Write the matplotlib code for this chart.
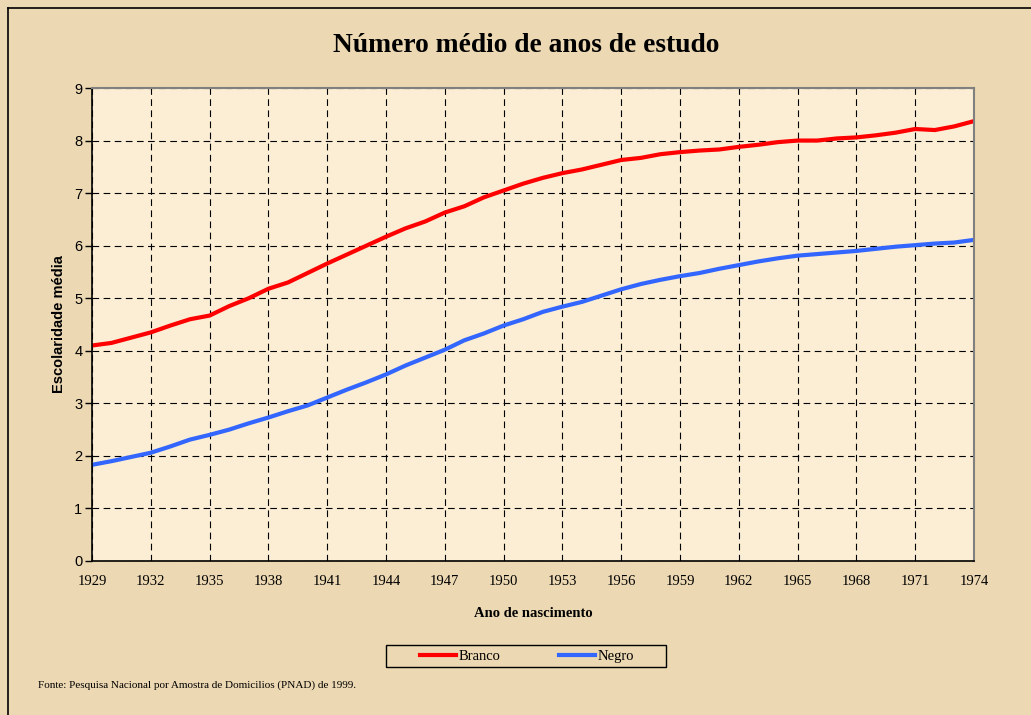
import numpy as np
import matplotlib
matplotlib.use("Agg")
import matplotlib.pyplot as plt
from matplotlib.lines import Line2D
from matplotlib.patches import Rectangle

# Dados (escolaridade média por ano de nascimento)
anos = list(range(1929, 1975))
branco = [4.10, 4.15, 4.25, 4.35, 4.48, 4.60, 4.67, 4.85, 5.00, 5.18,
          5.30, 5.48, 5.66, 5.83, 6.00, 6.17, 6.33, 6.46, 6.63, 6.75,
          6.92, 7.05, 7.18, 7.29, 7.38, 7.45, 7.54, 7.63, 7.67, 7.74,
          7.78, 7.81, 7.83, 7.88, 7.92, 7.97, 8.00, 8.00, 8.04, 8.06,
          8.10, 8.15, 8.22, 8.20, 8.27, 8.37]
negro = [1.83, 1.90, 1.98, 2.06, 2.18, 2.31, 2.40, 2.50, 2.62, 2.73,
         2.85, 2.96, 3.11, 3.26, 3.40, 3.55, 3.72, 3.87, 4.02, 4.20,
         4.33, 4.48, 4.60, 4.74, 4.84, 4.93, 5.05, 5.17, 5.27, 5.35,
         5.42, 5.48, 5.56, 5.63, 5.70, 5.76, 5.81, 5.84, 5.87, 5.90,
         5.94, 5.98, 6.01, 6.04, 6.06, 6.11]
xticks = list(range(1929, 1975, 3))

fundo = "#ecd8b2"
fundo_plot = "#fbeed4"
serif = "Liberation Serif"
sans = "Liberation Sans"

fig = plt.figure(figsize=(10.31, 7.15), dpi=100, facecolor=fundo)
ax = fig.add_axes([92 / 1031, 154 / 715, 882 / 1031, 473 / 715])
ax.set_facecolor(fundo_plot)

ax.plot(anos, branco, color="#ff0000", lw=3.0, solid_capstyle="butt")
ax.plot(anos, negro, color="#3366ff", lw=3.0, solid_capstyle="butt")

ax.set_xlim(1929, 1974)
ax.set_ylim(0, 9)
ax.set_xticks(xticks)
ax.set_yticks(range(0, 10))
ax.grid(True, color="black", linestyle=(0, (6, 4)), linewidth=0.8)
ax.set_axisbelow(True)

for lbl in ax.get_xticklabels():
    lbl.set_family(serif)
    lbl.set_fontsize(10.5)
for lbl in ax.get_yticklabels():
    lbl.set_family(sans)
    lbl.set_fontsize(10.5)
ax.tick_params(axis="x", length=0, pad=10)
ax.tick_params(axis="y", length=5, width=1, direction="out", pad=2)

ax.spines["left"].set_color("black")
ax.spines["bottom"].set_color("black")
ax.spines["left"].set_linewidth(1.2)
ax.spines["bottom"].set_linewidth(1.2)
ax.spines["top"].set_color("#808080")
ax.spines["right"].set_color("#808080")
ax.spines["top"].set_linewidth(1.5)
ax.spines["right"].set_linewidth(1.5)

ax.set_ylabel("Escolaridade média", family=sans, fontweight="bold",
              fontsize=10.5, labelpad=6)
ax.set_xlabel("Ano de nascimento", family=serif, fontweight="bold",
              fontsize=10.5, labelpad=14)

fig.text(0.51, 0.936, "Número médio de anos de estudo", family=serif,
         fontweight="bold", fontsize=19.8, ha="center", va="center")

# legenda sem moldura + caixa desenhada à parte
handles = [Line2D([], [], color="#ff0000", lw=3.0),
           Line2D([], [], color="#3366ff", lw=3.0)]
fig.legend(handles, ["Branco", "Negro"], loc="center",
           bbox_to_anchor=(527 / 1031, 1 - 656 / 715), ncol=2,
           frameon=False, prop={"family": serif, "size": 10.5},
           handlelength=2.5, handletextpad=0.15, columnspacing=4.0,
           borderpad=0, borderaxespad=0)
fig.add_artist(Rectangle((386 / 1031, 1 - 667 / 715), 280 / 1031, 22 / 715,
                         transform=fig.transFigure, fill=False,
                         edgecolor="black", lw=1.0))

fig.text(38 / 1031, 1 - 685 / 715,
         "Fonte: Pesquisa Nacional por Amostra de Domicilios (PNAD) de 1999.",
         family=serif, fontsize=8, ha="left", va="center")

# borda externa (esquerda e topo)
fig.add_artist(Line2D([8 / 1031, 8 / 1031], [0, 1 - 8 / 715],
                      transform=fig.transFigure, color="black", lw=1.2))
fig.add_artist(Line2D([8 / 1031, 1], [1 - 8 / 715, 1 - 8 / 715],
                      transform=fig.transFigure, color="black", lw=1.2))

fig.savefig("out.png", dpi=100, facecolor=fundo)
